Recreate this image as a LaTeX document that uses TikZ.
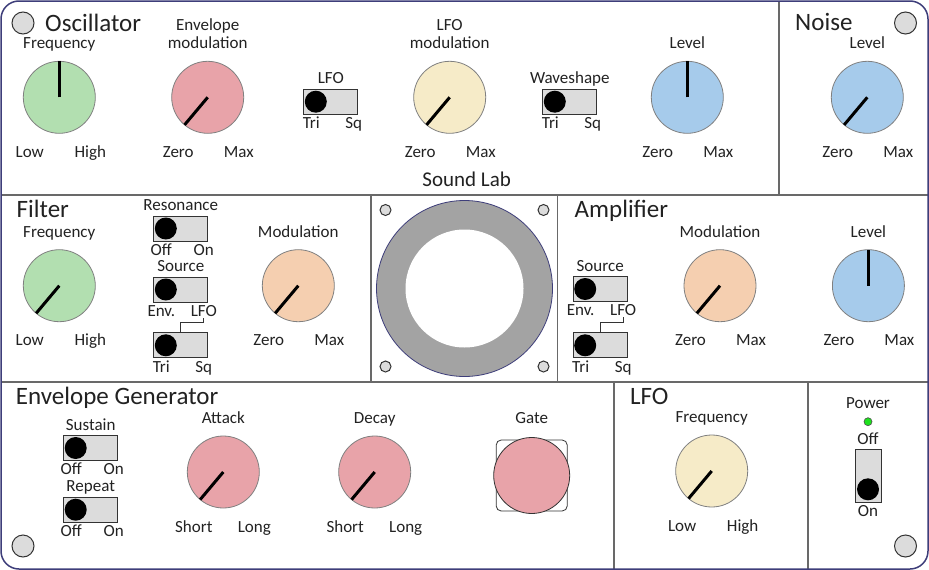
\documentclass[tikz,border=0pt]{standalone}
\usepackage{fontspec}
\setmainfont{Carlito}
\usetikzlibrary{positioning}

\definecolor{panelline}{RGB}{105,105,105}
\definecolor{frameblue}{RGB}{62,62,122}
\definecolor{knobgreen}{RGB}{178,223,176}
\definecolor{knobpink}{RGB}{232,163,169}
\definecolor{knobcream}{RGB}{246,235,200}
\definecolor{knobblue}{RGB}{166,203,235}
\definecolor{knobpeach}{RGB}{245,207,176}
\definecolor{switchgray}{RGB}{220,220,220}
\definecolor{conegray}{RGB}{163,163,163}
\definecolor{ledgreen}{RGB}{30,225,30}
\definecolor{textdark}{RGB}{34,34,34}

% 旋钮: 名称, x, y, 颜色, 指针角度, 标题, 左标签, 右标签
\newcommand{\knob}[8]{%
  \node[knob, fill=#4] (#1) at (#2,#3) {};
  \draw[pointer] (#1.center) -- ++(#5:36);
  \path (#1.center) ++(0,-48.5) node[lbl] (#1-t) {#6};
  \path (#1.center) ++(-29.5,60) node[lbl] (#1-l) {#7};
  \path (#1.center) ++(31,60) node[lbl] (#1-r) {#8};
}

% 拨动开关: 名称, 左上角 x, y, 标题, 左标签, 右标签
\newcommand{\slideswitch}[6]{%
  \node[switchbox, anchor=north west] (#1) at (#2,#3) {};
  \path (#1.west) ++(12.5,0) node[ball] (#1-b) {};
  \path (#1.north) ++(0,-5) node[lbl] (#1-t) {#4};
  \path (#1.south west) ++(8,13.8) node[lbl] (#1-l) {#5};
  \path (#1.south east) ++(-4.5,13.8) node[lbl] (#1-r) {#6};
}

\begin{document}
\begin{tikzpicture}[x=1pt, y=-1pt,
    lbl/.style={font=\fontsize{17}{20}\selectfont, anchor=base, inner sep=0pt, text=textdark},
    title/.style={font=\fontsize{25}{28}\selectfont, anchor=base west, inner sep=0pt, text=textdark},
    knob/.style={circle, draw=gray, line width=0.8pt, minimum size=72pt, inner sep=0pt},
    pointer/.style={line width=3pt, black},
    switchbox/.style={rectangle, draw=black!80, line width=1pt, fill=switchgray, minimum width=54pt, minimum height=25pt, inner sep=0pt},
    ball/.style={circle, fill=black, minimum size=22pt, inner sep=0pt},
    screw/.style={circle, draw=black!80, line width=1pt, fill=switchgray, minimum size=22pt, inner sep=0pt},
    divider/.style={panelline, line width=1.8pt},
    wire/.style={black!80, line width=0.8pt}]
    \useasboundingbox (0,0) rectangle (929,570);

    % 面板外框与分区线
    \fill[white] (1,1) rectangle (928,569);
    \draw[divider] (1,195) -- (928,195);
    \draw[divider] (1,382) -- (928,382);
    \draw[divider] (779,1) -- (779,195);
    \draw[divider] (371,195) -- (371,382);
    \draw[divider] (557.5,195) -- (557.5,382);
    \draw[divider] (614,382) -- (614,569);
    \draw[divider] (808,382) -- (808,569);
    \draw[frameblue, line width=1.5pt, rounded corners=18pt] (1,1) rectangle (928,569);

    % 四角螺丝
    \node[screw] (screwtl) at (23,23) {};
    \node[screw] (screwtr) at (905.5,23) {};
    \node[screw] (screwbl) at (23,546) {};
    \node[screw] (screwbr) at (905.5,546) {};

    % 振荡器
    \node[title] (osctitle) at (45,31) {Oscillator};
    \knob{oscf}{59.3}{97.3}{knobgreen}{-90}{Frequency}{Low}{High}
    \knob{envm}{207.7}{97.3}{knobpink}{130}{modulation}{Zero}{Max}
    \path (envm-t.base) ++(0,-18) node[lbl] (envm-t2) {Envelope};
    \slideswitch{lfosw}{303.3}{88.7}{LFO}{Tri}{Sq}
    \knob{lfom}{449.7}{97.3}{knobcream}{130}{modulation}{Zero}{Max}
    \path (lfom-t.base) ++(0,-18) node[lbl] (lfom-t2) {LFO};
    \slideswitch{wavesw}{542.3}{88.7}{Waveshape}{Tri}{Sq}
    \knob{oscl}{687.3}{97.3}{knobblue}{-90}{Level}{Zero}{Max}
    \node[lbl, font=\fontsize{21}{24}\selectfont] (brand) at (466.7,186.7) {Sound Lab};

    % 噪声
    \node[title] (noisetitle) at (795,30.7) {Noise};
    \knob{noisel}{867.3}{97.3}{knobblue}{130}{Level}{Zero}{Max}

    % 滤波器
    \node[title] (filtitle) at (16.5,217.3) {Filter};
    \knob{filf}{59.3}{285.7}{knobgreen}{130}{Frequency}{Low}{High}
    \slideswitch{ressw}{153.3}{215.5}{Resonance}{Off}{On}
    \slideswitch{fsrcsw}{153.3}{276.5}{Source}{Env.}{LFO}
    \slideswitch{fwavesw}{153.3}{332.3}{}{Tri}{Sq}
    \draw[wire] (fwavesw.north) -- ++(0,-9.5) -| ([yshift=-1pt]fsrcsw-r.south);
    \knob{film}{298.3}{285.7}{knobpeach}{130}{Modulation}{Zero}{Max}

    % 扬声器
    \node[circle, draw=frameblue, line width=0.8pt, fill=conegray, minimum size=176pt, inner sep=0pt] (cone) at (464.5,288.5) {};
    \node[circle, fill=white, minimum size=118pt, inner sep=0pt] (dust) at (cone.center) {};
    \foreach \sx/\sy [count=\k] in {385.5/210, 543.5/210, 385.5/366.5, 543.5/366.5}
        \node[screw, minimum size=11pt] (spk\k) at (\sx,\sy) {};

    % 放大器
    \node[title] (amptitle) at (574.5,217.3) {Amplifier};
    \slideswitch{asrcsw}{572.7}{276}{Source}{Env.}{LFO}
    \slideswitch{awavesw}{572.7}{332.3}{}{Tri}{Sq}
    \draw[wire] (awavesw.north) -- ++(0,-9.5) -| ([yshift=-1pt]asrcsw-r.south);
    \knob{ampm}{720}{285.7}{knobpeach}{130}{Modulation}{Zero}{Max}
    \knob{ampl}{868.4}{285.7}{knobblue}{-90}{Level}{Zero}{Max}

    % 包络发生器
    \node[title] (egtitle) at (15.8,404.3) {Envelope Generator};
    \slideswitch{sussw}{63.2}{435}{Sustain}{Off}{On}
    \slideswitch{repsw}{63.2}{496.7}{Repeat}{Off}{On}
    \knob{att}{223.3}{472}{knobpink}{130}{Attack}{Short}{Long}
    \knob{dec}{374.7}{472}{knobpink}{130}{Decay}{Short}{Long}
    \node[lbl] (gatelbl) at (531.7,423.3) {Gate};
    \node[draw=black!80, line width=0.8pt, rounded corners=5pt, minimum size=71pt, inner sep=0pt] (gatebox) at (531.7,475.5) {};
    \node[circle, draw=black!80, line width=0.8pt, fill=knobpink, minimum size=76pt, inner sep=0pt] (gate) at (gatebox.center) {};

    % 低频振荡器
    \node[title] (lfotitle) at (630,404.3) {LFO};
    \knob{lfof}{711.7}{471}{knobcream}{130}{Frequency}{Low}{High}

    % 电源
    \node[lbl] (powerlbl) at (868,408.3) {Power};
    \node[circle, draw=black!70, line width=0.6pt, fill=ledgreen, minimum size=8pt, inner sep=0pt] (led) at (868,421.7) {};
    \node[lbl] (offlbl) at (868,444) {Off};
    \node[switchbox, minimum width=26pt, minimum height=53pt] (powersw) at (868,475.7) {};
    \node[ball] (powerball) at (868,489.3) {};
    \node[lbl] (onlbl) at (868,516.7) {On};
\end{tikzpicture}
\end{document}
